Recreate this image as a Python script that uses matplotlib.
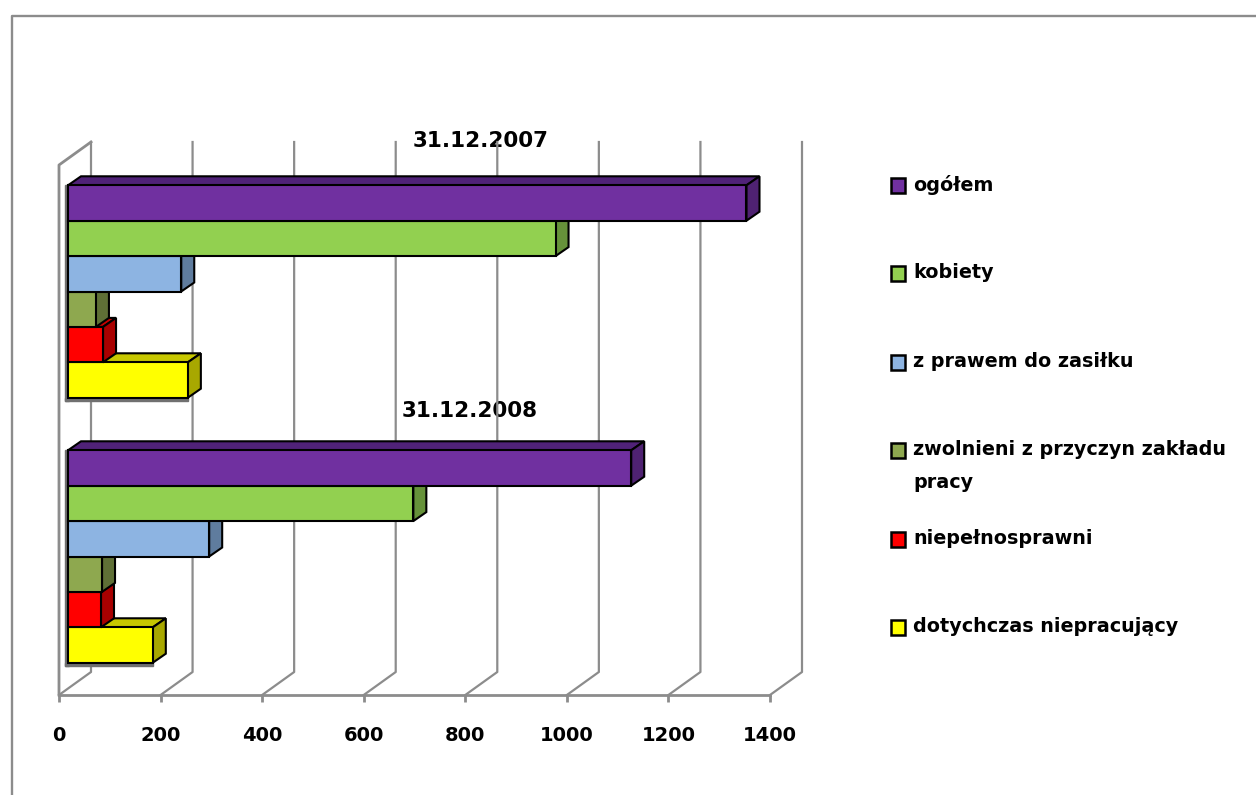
import matplotlib
matplotlib.use("Agg")
import matplotlib.pyplot as plt
from matplotlib.patches import Polygon, Rectangle

W, H = 1256, 795

dates = ["31.12.2007", "31.12.2008"]
series = ["ogółem", "kobiety", "z prawem do zasiłku",
          "zwolnieni z przyczyn zakładu\npracy", "niepełnosprawni", "dotychczas niepracujący"]
values_2007 = [1336, 960, 223, 55, 69, 236]
values_2008 = [1109, 680, 278, 67, 65, 167]
ticks = [0, 200, 400, 600, 800, 1000, 1200, 1400]

front = ["#7030A0", "#92D050", "#8DB4E2", "#8EA84F", "#FF0000", "#FFFF00"]
side = ["#4F2272", "#66923A", "#5F7C9E", "#5F7036", "#A80000", "#A8A800"]
top = ["#502278", "#6EA03E", "#6C8DB4", "#6C803C", "#C80000", "#C8C800"]

plt.rcParams["font.family"] = ["DejaVu Sans"]
plt.rcParams["font.weight"] = "bold"

fig = plt.figure(figsize=(W / 100, H / 100), dpi=100)

# ramka wykresu
bg = fig.add_axes([0, 0, 1, 1])
bg.set_xlim(0, W)
bg.set_ylim(H, 0)
bg.axis("off")
bg.plot([12, 12, W], [H, 16, 16], color="#8C8C8C", lw=1.7, solid_capstyle="butt")

ax = fig.add_axes([59 / W, 1 - 695 / H, (770 - 59) / W, (695 - 165) / H])
ax.set_xlim(0, 1400)
ax.set_ylim(2, 0)
ax.patch.set_alpha(0)
for s in ["top", "left", "right"]:
    ax.spines[s].set_visible(False)
ax.spines["bottom"].set_color("#8C8C8C")
ax.spines["bottom"].set_linewidth(2)
ax.set_yticks([])
ax.set_xticks(ticks)
ax.tick_params(axis="x", length=5, width=2, color="#8C8C8C", pad=17, labelsize=14)

# przesuniecia glebi 3D w jednostkach danych
ux = 1400 / (770 - 59)
uy = 2 / (695 - 165)
wall_dx, wall_dy = 32 * ux, 23 * uy
bar_dx, bar_dy = 13 * ux, 9 * uy
base = 9 * ux
bar_h = 35.4 * uy
shift = -6 * uy
ymax, ymin = 2, 0

for t in ticks:
    ax.plot([t, t + wall_dx, t + wall_dx], [ymax, ymax - wall_dy, ymin - wall_dy],
            color="#8C8C8C", lw=1.6, clip_on=False, zorder=1)
ax.plot([0, 0, wall_dx], [ymax, ymin, ymin - wall_dy], color="#8C8C8C", lw=2,
        clip_on=False, zorder=1)

for c, vals in enumerate([values_2007, values_2008]):
    y0 = c + 0.5 + shift - 3 * bar_h
    # cien z lewej i od dolu
    ax.add_patch(Rectangle((base - 3 * ux, y0), 4 * ux, 6 * bar_h + 3 * uy, color="#707070", zorder=2))
    ax.add_patch(Rectangle((base - 3 * ux, y0 + 6 * bar_h), vals[5] + 3 * ux, 3 * uy, color="#707070", zorder=2))
    for i in range(5, -1, -1):
        v = vals[i]
        y = y0 + i * bar_h
        x1 = base + v
        ax.add_patch(Polygon([(base, y), (base + bar_dx, y - bar_dy), (x1 + bar_dx, y - bar_dy), (x1, y)],
                             fc=top[i], ec="black", lw=1.5, zorder=3 + 5 - i))
        ax.add_patch(Polygon([(x1, y), (x1 + bar_dx, y - bar_dy), (x1 + bar_dx, y + bar_h - bar_dy), (x1, y + bar_h)],
                             fc=side[i], ec="black", lw=1.5, zorder=3 + 5 - i))
        ax.barh(y + 0.5 * bar_h, v, height=bar_h, left=base,
                color=front[i], edgecolor="black", lw=1.5, zorder=3 + 5 - i)

# etykiety kategorii
bg.text(481, 141, dates[0], ha="center", va="center", fontsize=15.5, zorder=20)
bg.text(470, 411, dates[1], ha="center", va="center", fontsize=15.5, zorder=20)

# legenda
legend_y = [185, 273, 362, 450, 539, 627]
for name, color, ly in zip(series, front, legend_y):
    bg.add_patch(Rectangle((891, ly - 7.5), 14, 15, fc=color, ec="black", lw=1.8))
    bg.text(913, ly - 10, name, ha="left", va="top", fontsize=13.8, linespacing=1.9)

fig.savefig("out.png", dpi=100)
